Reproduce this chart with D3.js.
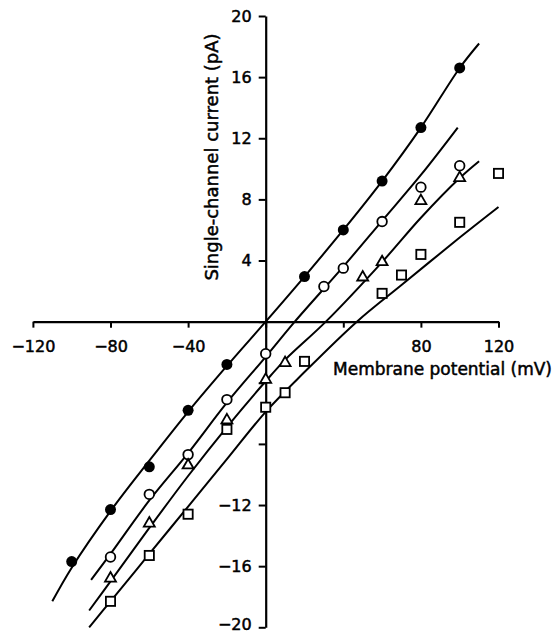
<!DOCTYPE html>
<html>
<head>
<meta charset="utf-8">
<script src="https://cdn.jsdelivr.net/npm/d3@7"></script>
<style>
  html, body { margin: 0; padding: 0; background: #fff; }
  svg { display: block; }
  text { font-family: "DejaVu Sans", sans-serif; fill: #000; }
</style>
</head>
<body>
<svg id="chart" width="557" height="635"></svg>
<script>
// ---- data ----
const xTicks = [-120, -80, -40, 0, 40, 80, 120];
const xTickLabels = ["−120", "−80", "−40", "", "", "80", "120"];
const yTicks = [-20, -16, -12, -8, -4, 0, 4, 8, 12, 16, 20];
const yTickLabels = ["−20", "−16", "−12", "", "", "", "4", "8", "12", "16", "20"];
const xTitle = "Membrane potential (mV)";
const yTitle = "Single-channel current (pA)";

// measured points: [potential mV, current pA]
const filledPts = [[-100,-15.7],[-80,-12.3],[-60,-9.5],[-40,-5.8],[-20,-2.8],[20,2.95],[40,6.0],[60,9.2],[80,12.7],[100,16.6]];
const openPts = [[-80,-15.4],[-60,-11.3],[-40,-8.7],[-20,-5.1],[0,-2.1],[30,2.3],[40,3.5],[60,6.55],[80,8.8],[100,10.2]];
const trianglePts = [[-80,-16.8],[-60,-13.2],[-40,-9.4],[-20,-6.45],[0,-3.8],[10,-2.7],[50,2.9],[60,3.9],[80,7.9],[100,9.4]];
const squarePts = [[-80,-18.3],[-60,-15.3],[-40,-12.6],[-20,-7.05],[0,-5.6],[10,-4.65],[20,-2.6],[60,1.85],[70,3.05],[80,4.4],[100,6.5],[120,9.7]];

// fitted curves
const filledFit = [[-110,-18.3],[-100,-16.1],[-80,-12.4],[-60,-9.1],[-40,-5.9],[-20,-2.9],[0,0],[20,2.95],[40,6.0],[60,9.2],[80,12.7],[100,16.6],[110,18.2]];
const openFit = [[-90,-16.9],[-80,-15.2],[-60,-11.7],[-40,-8.6],[-20,-5.3],[0,-2.3],[15,0],[40,3.6],[60,6.6],[80,9.6],[99,12.7]];
const triangleFit = [[-91,-18.9],[-80,-17.0],[-60,-13.5],[-40,-10.1],[-20,-6.9],[0,-3.9],[10,-2.5],[31,0],[60,3.9],[80,6.8],[100,9.4],[110,10.5]];
const squareFit = [[-91,-20.0],[-80,-18.3],[-60,-15.2],[-40,-12.1],[-20,-9.0],[0,-5.9],[20,-3.3],[47,0],[70,2.4],[100,5.5],[120,7.5]];

// ---- drawing ----
const svg = d3.select("#chart");
const x = d3.scaleLinear().domain([-120, 120]).range([32.9, 498.5]);
const y = d3.scaleLinear().domain([-20, 20]).range([627.3, 16]);

const fits = [filledFit, openFit, triangleFit, squareFit];
const line = d3.line().x(d => x(d[0])).y(d => y(d[1])).curve(d3.curveCatmullRom.alpha(0.5));
svg.append("g").selectAll("path").data(fits).join("path")
  .attr("d", line).attr("fill", "none").attr("stroke", "#000").attr("stroke-width", 2);

// axes
const xAxis = d3.axisBottom(x).tickValues(xTicks)
  .tickFormat((d, i) => xTickLabels[i]).tickSize(6).tickSizeOuter(0).tickPadding(13);
const gx = svg.append("g").attr("transform", `translate(0,${y(0)})`).call(xAxis);
const yAxis = d3.axisLeft(y).tickValues(yTicks)
  .tickFormat((d, i) => yTickLabels[i]).tickSize(7).tickSizeOuter(0).tickPadding(7);
const gy = svg.append("g").attr("transform", `translate(${x(0)},0)`).call(yAxis);
[gx, gy].forEach(g => {
  g.select(".domain").attr("stroke", "#000").attr("stroke-width", 2.2);
  g.selectAll(".tick line").attr("stroke", "#000").attr("stroke-width", 2);
  g.selectAll(".tick text").attr("font-family", "DejaVu Sans").attr("font-size", 16)
    .attr("fill", "#000").attr("stroke", "#000").attr("stroke-width", 0.5);
});
// keep the bottom label inside the picture
gy.selectAll(".tick text").filter(d => d === -20).attr("dy", "0.12em");

// markers
const mk = svg.append("g");
mk.selectAll("circle.f").data(filledPts).join("circle").attr("class", "f")
  .attr("cx", d => x(d[0])).attr("cy", d => y(d[1])).attr("r", 5.5).attr("fill", "#000");
mk.selectAll("circle.o").data(openPts).join("circle").attr("class", "o")
  .attr("cx", d => x(d[0])).attr("cy", d => y(d[1])).attr("r", 4.8)
  .attr("fill", "#fff").attr("stroke", "#000").attr("stroke-width", 1.8);
const tri = d3.symbol().type(d3.symbolTriangle).size(52);
mk.selectAll("path.t").data(trianglePts).join("path").attr("class", "t")
  .attr("d", tri).attr("transform", d => `translate(${x(d[0])},${y(d[1])})`)
  .attr("fill", "#fff").attr("stroke", "#000").attr("stroke-width", 1.8);
mk.selectAll("rect.s").data(squarePts).join("rect").attr("class", "s")
  .attr("x", d => x(d[0]) - 4.6).attr("y", d => y(d[1]) - 4.6)
  .attr("width", 9.2).attr("height", 9.2)
  .attr("fill", "#fff").attr("stroke", "#000").attr("stroke-width", 1.8);

// titles
svg.append("text").attr("x", 333).attr("y", 375).attr("font-size", 17)
  .attr("stroke", "#000").attr("stroke-width", 0.5).text(xTitle);
svg.append("text").attr("transform", "translate(218,157) rotate(-90)")
  .attr("text-anchor", "middle").attr("font-size", 18)
  .attr("stroke", "#000").attr("stroke-width", 0.5).text(yTitle);
</script>
</body>
</html>
